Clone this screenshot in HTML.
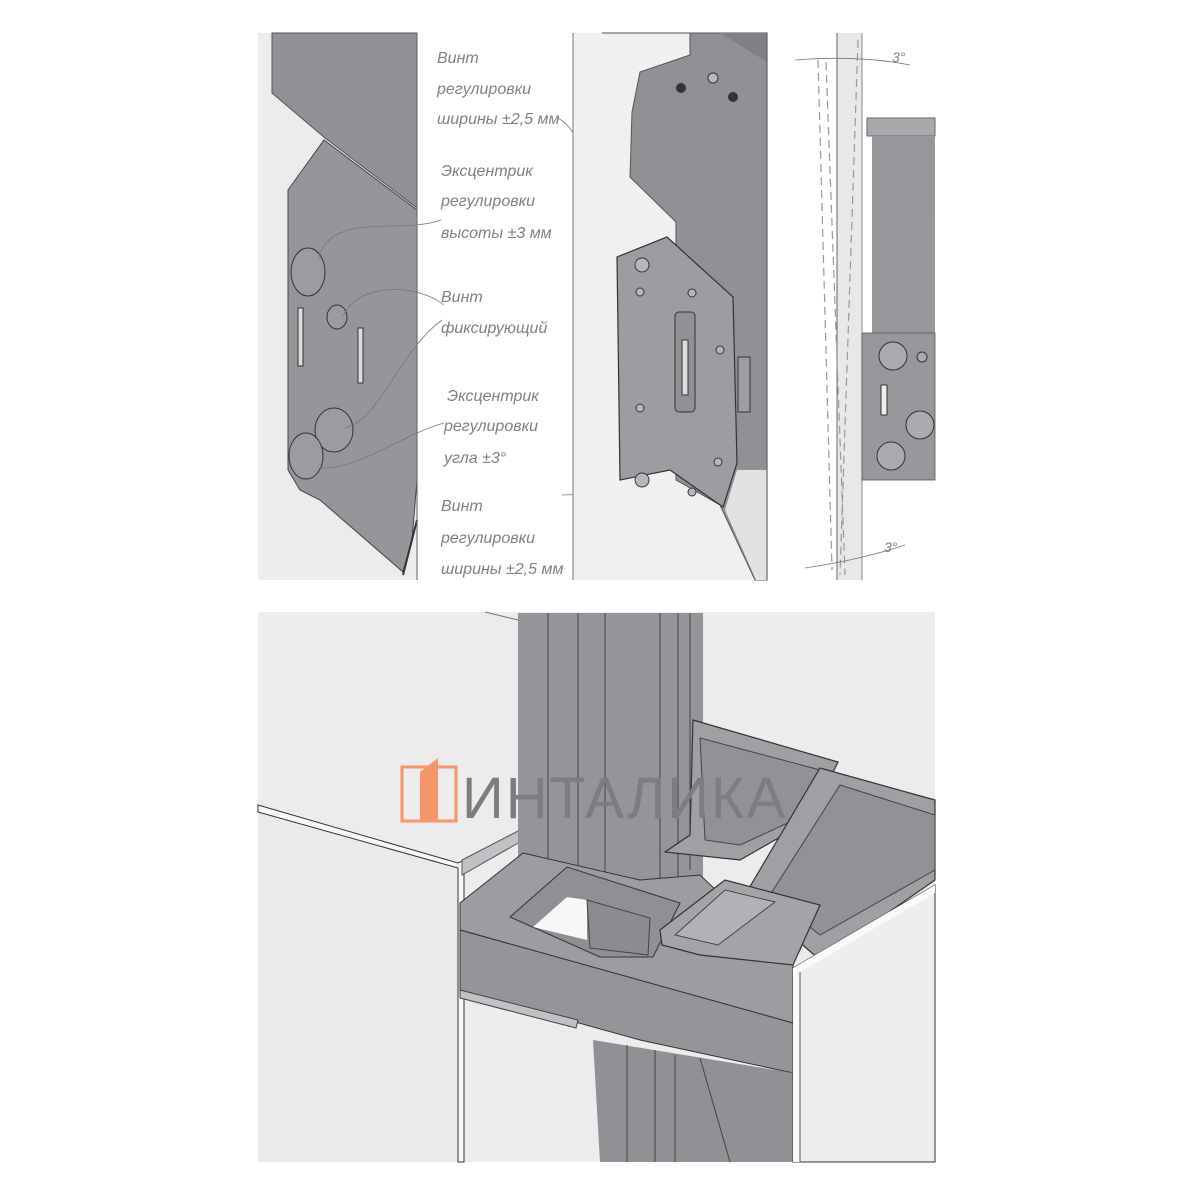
<!DOCTYPE html>
<html><head><meta charset="utf-8"><style>
html,body{margin:0;padding:0;background:#fff;width:1200px;height:1200px;overflow:hidden}
svg{display:block}
.t{font-family:"Liberation Sans","DejaVu Sans",sans-serif;font-style:italic;font-size:16px;fill:#808080}
</style></head><body>
<svg width="1200" height="1200" viewBox="0 0 1200 1200" xmlns="http://www.w3.org/2000/svg">
<rect width="1200" height="1200" fill="#fff"/>
<!-- TOP LEFT PANEL -->
<rect x="258" y="33" width="160" height="547" fill="#ececec"/>
<polygon points="272,33 417,33 417,208 325,138 272,93" fill="#8f9194" stroke="#555" stroke-width="1"/>
<polygon points="288,190 324,140 417,210 417,480 412,540 403,572 320,500 300,490 288,470" fill="#94969a" stroke="#444" stroke-width="1"/>
<line x1="417" y1="520" x2="403" y2="575" stroke="#333" stroke-width="2"/>
<g stroke="#333" stroke-width="1" fill="#9a9ca0">
<ellipse cx="308" cy="272" rx="17" ry="24"/>
<ellipse cx="337" cy="317" rx="10" ry="12"/>
<ellipse cx="334" cy="430" rx="19" ry="22"/>
<ellipse cx="306" cy="456" rx="17" ry="23"/>
</g>
<rect x="298" y="308" width="5" height="58" fill="#ddd" stroke="#333"/>
<rect x="358" y="328" width="5" height="55" fill="#ddd" stroke="#333"/>
<line x1="417" y1="33" x2="417" y2="580" stroke="#666"/>
<g fill="none" stroke="#777" stroke-width="0.8">
<path d="M441,220 C400,235 330,210 318,260"/>
<path d="M444,305 C420,285 360,280 343,316"/>
<path d="M442,320 C400,350 380,420 345,428"/>
<path d="M444,423 C400,435 360,470 320,468"/>
<path d="M558,118 C580,130 590,170 600,200 C610,230 620,250 640,268"/>
<path d="M562,495 C590,495 610,490 632,482"/>
</g>
<text class="t" x="437" y="63">Винт</text>
<text class="t" x="437" y="94">регулировки</text>
<text class="t" x="437" y="124">ширины ±2,5 мм</text>
<text class="t" x="441" y="176">Эксцентрик</text>
<text class="t" x="441" y="206">регулировки</text>
<text class="t" x="441" y="238">высоты ±3 мм</text>
<text class="t" x="441" y="302">Винт</text>
<text class="t" x="441" y="333">фиксирующий</text>
<text class="t" x="447" y="401">Эксцентрик</text>
<text class="t" x="444" y="431">регулировки</text>
<text class="t" x="444" y="463">угла ±3°</text>
<text class="t" x="441" y="511">Винт</text>
<text class="t" x="441" y="543">регулировки</text>
<text class="t" x="441" y="574">ширины ±2,5 мм</text>
<!-- MIDDLE PANEL -->
<rect x="573" y="33" width="195" height="547" fill="#f0f0f0"/>
<line x1="573" y1="33" x2="573" y2="580" stroke="#777"/>
<polygon points="602,33 690,33 690,55 640,72 632,112 630,177 676,222 676,480 720,505 755,580 767,580 767,33" fill="#8f9194" stroke="#555"/>
<polygon points="720,33 767,33 767,62" fill="#7f8184"/>
<polygon points="737,470 767,470 767,580 756,580 725,510" fill="#e2e2e2"/>
<line x1="767" y1="33" x2="767" y2="580" stroke="#555"/>
<polygon points="617,257 667,237 733,297 737,463 723,507 670,470 620,480" fill="#9b9da1" stroke="#333" stroke-width="1.2"/>
<rect x="738" y="357" width="12" height="55" fill="#9b9da1" stroke="#333"/>
<rect x="675" y="312" width="20" height="100" rx="4" fill="#8f9194" stroke="#333"/>
<rect x="682" y="340" width="6" height="55" fill="#ddd" stroke="#333"/>
<g fill="#b5b7ba" stroke="#333">
<circle cx="642" cy="265" r="7"/><circle cx="642" cy="480" r="7"/>
<circle cx="640" cy="292" r="4"/><circle cx="640" cy="408" r="4"/>
<circle cx="692" cy="293" r="4"/><circle cx="720" cy="350" r="4"/><circle cx="718" cy="462" r="4"/><circle cx="692" cy="492" r="4"/>
</g>
<g fill="#333"><circle cx="681" cy="88" r="5"/><circle cx="733" cy="97" r="5"/></g>
<circle cx="713" cy="78" r="5" fill="#bbb" stroke="#333"/>
<!-- RIGHT PANEL -->
<rect x="837" y="33" width="25" height="547" fill="#e8e8e8"/>
<line x1="837" y1="33" x2="837" y2="580" stroke="#666"/>
<line x1="862" y1="33" x2="862" y2="580" stroke="#888"/>
<g stroke="#999" stroke-dasharray="8,5" fill="none" stroke-width="1.2">
<line x1="818" y1="60" x2="832" y2="570"/>
<line x1="858" y1="40" x2="840" y2="575"/>
<line x1="826" y1="62" x2="845" y2="575"/>
</g>
<g stroke="#777" fill="none" stroke-width="0.8">
<path d="M795,60 Q860,55 910,65"/><path d="M805,568 Q860,560 905,545"/>
</g>
<text x="892" y="62" class="t" style="font-size:14px">3°</text>
<text x="884" y="552" class="t" style="font-size:14px">3°</text>
<rect x="867" y="118" width="68" height="18" fill="#a7a9ac" stroke="#666"/>
<rect x="872" y="136" width="63" height="75" fill="#95979a"/>
<rect x="872" y="211" width="63" height="122" fill="#96989b"/>
<rect x="862" y="333" width="73" height="147" fill="#96989b" stroke="#555" stroke-width="0.8"/>
<g fill="#a9abae" stroke="#333"><circle cx="893" cy="356" r="14"/><circle cx="920" cy="425" r="14"/><circle cx="891" cy="456" r="14"/><circle cx="922" cy="357" r="5"/></g>
<rect x="881" y="385" width="6" height="30" fill="#eee" stroke="#333"/>
<!-- BOTTOM -->
<rect x="258" y="612" width="677" height="550" fill="#ececec"/>
<line x1="485" y1="612" x2="518" y2="620" stroke="#777"/>
<polygon points="258,812 458,868 458,1162 258,1162" fill="#eaeaea"/>
<polygon points="258,805 458,863 464,860 464,1162 458,1162 458,868 258,812" fill="#f7f7f7" stroke="#333" stroke-width="1"/>
<polygon points="462,860 520,830 520,842 462,875" fill="#bfc1c4" stroke="#555"/>
<rect x="518" y="613" width="185" height="295" fill="#939599"/>
<g stroke="#444" stroke-width="1"><line x1="548" y1="613" x2="548" y2="900"/><line x1="578" y1="613" x2="578" y2="905"/><line x1="605" y1="613" x2="605" y2="905"/><line x1="660" y1="613" x2="660" y2="890"/><line x1="678" y1="613" x2="678" y2="880"/><line x1="690" y1="613" x2="690" y2="870"/></g>
<polygon points="693,720 838,762 810,820 740,860 665,852 690,835" fill="#9ea0a4" stroke="#333" stroke-width="1.2"/>
<polygon points="700,738 820,770 790,822 740,845 705,840" fill="#909296" stroke="#444"/>
<polygon points="820,768 935,800 935,880 820,960 745,895" fill="#9ea0a4" stroke="#333" stroke-width="1.2"/>
<polygon points="840,785 935,815 935,870 820,935 770,895" fill="#909296" stroke="#444"/>
<polygon points="460,903 523,853 640,880 700,875 793,963 793,1023 460,930" fill="#9b9da1" stroke="#333"/>
<polygon points="510,917 567,867 680,903 653,957 600,957" fill="#8e9094" stroke="#333"/>
<polygon points="533,927 567,897 587,900 587,940" fill="#f7f7f7"/>
<polygon points="587,900 650,918 648,955 590,948" fill="#8a8c90" stroke="#444"/>
<polygon points="660,930 725,880 820,905 793,965 700,955 662,945" fill="#a2a4a8" stroke="#333" stroke-width="1.2"/>
<polygon points="675,935 725,890 775,902 718,945" fill="#b0b2b5" stroke="#444"/>
<polygon points="460,930 793,1023 793,1073 640,1040 460,990" fill="#939599" stroke="#333"/>
<polygon points="460,990 578,1020 576,1028 460,998" fill="#bfc1c4" stroke="#444"/>
<polygon points="593,1040 793,1073 793,1162 600,1162" fill="#8f9194"/>
<g stroke="#444"><line x1="627" y1="1045" x2="627" y2="1162"/><line x1="655" y1="1050" x2="655" y2="1162"/><line x1="675" y1="1055" x2="675" y2="1162"/><line x1="700" y1="1058" x2="730" y2="1162"/></g>
<polygon points="793,968 935,885 935,1162 793,1162" fill="#eeeeee" stroke="#333"/>
<polygon points="793,968 935,885 935,893 800,972 800,1162 793,1162" fill="#fafafa"/>
<line x1="800" y1="972" x2="800" y2="1162" stroke="#555"/>
<rect x="402" y="767" width="54" height="54" fill="none" stroke="#f4956a" stroke-width="3"/>
<polygon points="420,772 438,758 438,822 420,822" fill="#f4956a"/>
<text x="462" y="818" font-family="Liberation Sans, sans-serif" font-size="58" fill="#7b7d80" letter-spacing="2">ИНТАЛИКА</text>
</svg>
</body></html>
